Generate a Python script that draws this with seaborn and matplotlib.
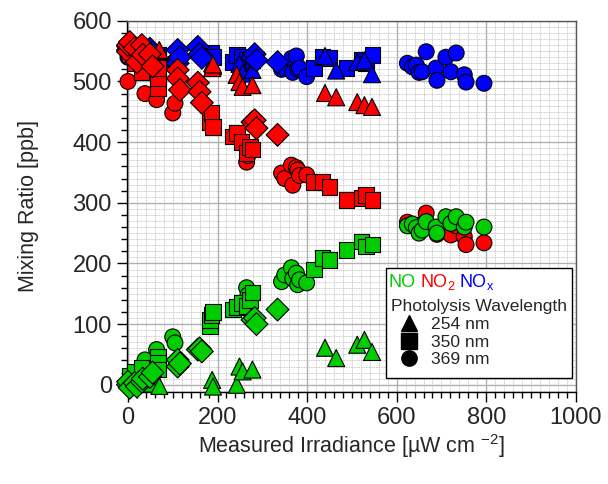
import numpy as np
import pandas as pd
import matplotlib
matplotlib.use('Agg')
import matplotlib.pyplot as plt
import seaborn as sns
from matplotlib.lines import Line2D
from matplotlib.patches import Rectangle
from matplotlib.ticker import MultipleLocator

# Data: irradiance [uW cm-2] and mixing ratios [ppb]
# 254 nm (triangles)
tri_x = [50, 70, 188, 190, 243, 249, 256, 278, 440, 465, 512, 528, 545]
tri_no = [2, -2, 8, -3, 0, 30, 22, 25, 61, 44, 66, 74, 54]
tri_no2 = [548, 552, 522, 528, 511, 499, 491, 494, 481, 474, 466, 461, 458]
tri_nox = [550, 550, 530, 525, 511, 529, 513, 519, 542, 518, 532, 535, 512]

# 350 nm (squares)
sq_x = [4, 16, 30, 67, 67, 67, 183, 183, 187, 190, 234, 243, 254, 265, 272,
        278, 416, 434, 450, 488, 521, 532, 546]
sq_no = [15, 22, 28, 46, 36, 25, 96, 107, 115, 120, 124, 128, 135, 130, 140,
         152, 190, 209, 206, 222, 236, 228, 231]
sq_no2 = [545, 530, 515, 489, 505, 522, 442, 432, 448, 425, 409, 415, 400, 382,
          392, 388, 334, 334, 326, 305, 308, 313, 305]
sq_nox = [555, 550, 545, 544, 540, 535, 545, 545, 547, 540, 532, 544, 540, 535,
          535, 535, 522, 540, 539, 522, 535, 530, 544]

# 369 nm (circles)
ci_x = [0, 38, 64, 100, 105, 265, 268, 343, 350, 365, 368, 376, 379, 383, 399,
        624, 635, 644, 650, 657, 666, 688, 690, 710, 721, 733, 751, 755, 795]
ci_no = [2, 41, 58, 79, 69, 160, 148, 170, 181, 193, 175, 184, 165, 173, 168,
         262, 265, 259, 250, 255, 269, 260, 250, 277, 266, 277, 260, 268, 260]
ci_no2 = [500, 480, 470, 448, 464, 367, 378, 349, 340, 362, 329, 358, 354, 345,
          346, 268, 262, 260, 258, 265, 283, 255, 248, 258, 247, 262, 244, 231, 234]
ci_nox = [540, 535, 530, 528, 533, 530, 525, 520, 522, 538, 515, 542, 520, 522,
          508, 530, 524, 527, 515, 516, 549, 522, 502, 540, 516, 547, 511, 499, 497]

# unlabeled wavelength (diamonds)
di_x = [0, 0, 4, 15, 20, 31, 33, 49, 55, 111, 111, 116, 156, 160, 165, 278,
        283, 287, 334]
di_no = [0, 5, -5, 3, -3, 5, 10, 13, 20, 41, 30, 35, 58, 60, 55, 107, 110, 100, 124]
di_no2 = [549, 560, 565, 555, 532, 560, 544, 545, 525, 519, 505, 486, 498, 483,
          465, 433, 436, 423, 412]
di_nox = [552, 558, 560, 556, 550, 558, 552, 554, 548, 552, 530, 540, 557, 545,
          539, 539, 545, 535, 532]

sets = [
    ('369 nm', ci_x, ci_no, ci_no2, ci_nox),
    ('350 nm', sq_x, sq_no, sq_no2, sq_nox),
    ('254 nm', tri_x, tri_no, tri_no2, tri_nox),
    ('other', di_x, di_no, di_no2, di_nox),
]

rows = []
for species, idx in [('NOx', 4), ('NO2', 3), ('NO', 2)]:
    for s in sets:
        for xv, yv in zip(s[1], s[idx]):
            rows.append({'irradiance': xv, 'ppb': yv, 'species': species, 'wavelength': s[0]})
df = pd.DataFrame(rows)

sns.set_style('white')
plt.rcParams['font.family'] = ['Liberation Sans', 'DejaVu Sans']
plt.rcParams['mathtext.fontset'] = 'custom'
plt.rcParams['mathtext.rm'] = 'Liberation Sans'
plt.rcParams['mathtext.it'] = 'Liberation Sans'

palette = {'NO': '#00cc00', 'NO2': '#ff0000', 'NOx': '#0000ff'}
markers = {'254 nm': '^', '350 nm': 's', '369 nm': 'o', 'other': 'D'}
sizes = {'254 nm': 150, '350 nm': 125, '369 nm': 130, 'other': 135}

fig = plt.figure(figsize=(6.08, 4.84), dpi=100)
ax = fig.add_axes([0.209, 0.190, 0.738, 0.767])

# grid
for v in np.arange(-10, 600, 10):
    ax.axhline(v, color='#b8b8b8', lw=0.6, ls=(0, (1, 1)), zorder=0)
ax.xaxis.set_major_locator(MultipleLocator(200))
ax.xaxis.set_minor_locator(MultipleLocator(20))
ax.yaxis.set_major_locator(MultipleLocator(100))
ax.yaxis.set_minor_locator(MultipleLocator(20))
ax.grid(which='minor', axis='x', color='#b8b8b8', lw=0.6, ls=(0, (1, 1)), zorder=0)
ax.grid(which='major', color='#b0b0b0', lw=1.0, zorder=0)
ax.set_axisbelow(True)

sns.scatterplot(data=df, x='irradiance', y='ppb', hue='species', style='wavelength',
                size='wavelength', sizes=sizes,
                palette=palette, markers=markers, edgecolor='black',
                linewidth=0.8, legend=False, ax=ax, clip_on=False, zorder=3)

ax.set_xlim(-2, 1000)
ax.set_ylim(-12, 600)
ax.set_xlabel(r'Measured Irradiance [µW cm $^{\mathregular{-2}}$]', fontsize=15.5, labelpad=2)
ax.set_ylabel('Mixing Ratio [ppb]', fontsize=15.5, labelpad=24)
ax.tick_params(axis='both', which='major', labelsize=17, direction='out', length=7,
               width=1, color='black', left=True, bottom=True, pad=4)
ax.tick_params(axis='both', which='minor', direction='out', length=4, width=1,
               color='black', left=True, bottom=True)
for side in ['left', 'bottom']:
    ax.spines[side].set_color('black')
    ax.spines[side].set_linewidth(1)
for side in ['top', 'right']:
    ax.spines[side].set_color('#555555')
    ax.spines[side].set_linewidth(1)

# legend box: frame drawn separately so the coloured species line sits inside it
ax.add_patch(Rectangle((0.577, 0.038), 0.414, 0.296, transform=ax.transAxes,
                       facecolor='white', edgecolor='black', lw=1, zorder=5,
                       clip_on=False))
handles = [Line2D([], [], marker=m, color='black', ls='none', markersize=11)
           for m in ['^', 's', 'o']]
leg = ax.legend(handles, ['254 nm', '350 nm', '369 nm'], title='Photolysis Wavelength',
                loc='upper left', bbox_to_anchor=(0.577, 0.264), borderaxespad=0,
                fontsize=12.6, title_fontsize=12.6, frameon=False,
                handletextpad=0.3, borderpad=0.3, labelspacing=0.14, alignment='left')
leg.set_zorder(6)

ax.text(0.583, 0.283, 'NO', color=palette['NO'], fontsize=13, transform=ax.transAxes,
        va='baseline', zorder=7)
ax.text(0.653, 0.283, r'NO$_2$', color=palette['NO2'], fontsize=13, transform=ax.transAxes,
        va='baseline', zorder=7)
ax.text(0.739, 0.283, r'NO$_x$', color=palette['NOx'], fontsize=13, transform=ax.transAxes,
        va='baseline', zorder=7)

fig.savefig('out.png', dpi=100)
